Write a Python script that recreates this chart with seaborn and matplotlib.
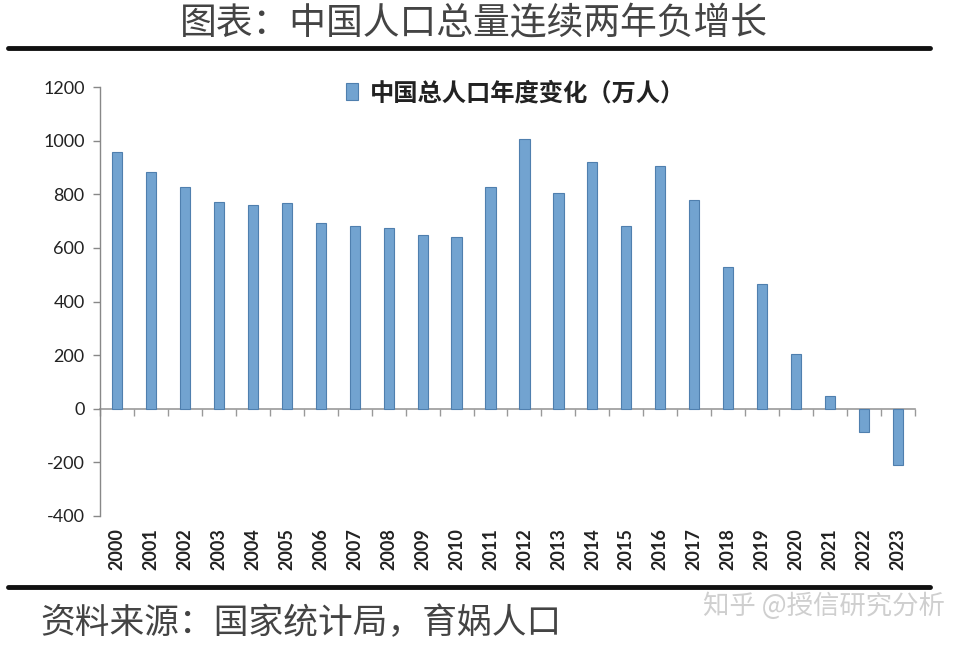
import matplotlib
matplotlib.use("Agg")
import matplotlib.pyplot as plt
import seaborn as sns
import pandas as pd
import numpy as np

years = [str(y) for y in range(2000, 2024)]
changes = [958, 884, 826, 771, 760, 768, 692, 681, 673, 647, 639, 826,
           1006, 804, 920, 680, 906, 779, 530, 467, 204, 48, -85, -208]
series_label = "中国总人口年度变化（万人）"
title_text = "图表：中国人口总量连续两年负增长"
source_text = "资料来源：国家统计局，育娲人口"
watermark_text = "知乎 @授信研究分析"
yticks = [-400, -200, 0, 200, 400, 600, 800, 1000, 1200]

sns.set_theme(style="white")
plt.rcParams['font.family'] = ['Lato', 'Noto Sans CJK SC', 'DejaVu Sans']
cjk = ['Noto Sans CJK SC', 'DejaVu Sans']

df = pd.DataFrame({"year": years, "change": changes})

fig = plt.figure(figsize=(9.74, 6.46), dpi=100)
ax = fig.add_axes([100/974, 1 - 516/646, 815/974, (516-87)/646])

sns.barplot(data=df, x="year", y="change", order=years, color="#72a3d0",
            width=0.3, edgecolor="#4f7fae", linewidth=0.8, saturation=1,
            label=series_label, ax=ax)

ax.set_ylim(-400, 1200)
ax.set_xlim(-0.5, len(years) - 0.5)
ax.set_yticks(yticks)
ax.set_yticklabels([str(v) for v in yticks], fontsize=13, color="#222")
ax.set_xlabel("")
ax.set_ylabel("")
ax.tick_params(axis='y', direction='out', length=5, width=1, color="#888", pad=6, left=True)
ax.tick_params(axis='x', length=0, pad=9)
for lab in ax.get_xticklabels():
    lab.set_rotation(90)
    lab.set_fontsize(13)
    lab.set_fontweight('bold')
    lab.set_color("#222")
for s in ['top', 'right', 'bottom']:
    ax.spines[s].set_visible(False)
ax.spines['left'].set_color("#888")
ax.spines['left'].set_linewidth(1)

# zero axis with category-boundary ticks
sec = ax.secondary_xaxis((0 - (-400)) / 1600)
sec.set_xticks(np.arange(-0.5, len(years), 1.0))
sec.set_xticklabels([])
sec.tick_params(direction='out', length=5, width=1, color="#999")
sec.spines['bottom'].set_color("#999")
sec.spines['bottom'].set_linewidth(1.2)

leg = ax.legend(loc='center', bbox_to_anchor=(0.51, 0.985), frameon=False,
                handlelength=0.5, handleheight=0.7, handletextpad=0.5,
                prop={'family': cjk, 'size': 17.5, 'weight': 'bold'})
for t in leg.get_texts():
    t.set_color("#222")

# title and separators
fig.text(0.487, 1 - 24/646, title_text, ha='center', va='center', family=cjk,
         fontsize=26.5, color="#444")
fig.add_artist(plt.Line2D([8/974, 930/974], [1 - 48/646, 1 - 48/646],
                          color="#111", linewidth=3.5, transform=fig.transFigure))
fig.add_artist(plt.Line2D([8/974, 930/974], [1 - 587/646, 1 - 587/646],
                          color="#111", linewidth=3.5, transform=fig.transFigure))
fig.text(40/974, 1 - 624/646, source_text, ha='left', va='center', family=cjk,
         fontsize=25, color="#444", style='italic')
fig.text(945/974, 1 - 606/646, watermark_text, ha='right', va='center', family=cjk,
         fontsize=19, color="#cfcfcf")

fig.savefig("out.png", dpi=100, facecolor="white")
